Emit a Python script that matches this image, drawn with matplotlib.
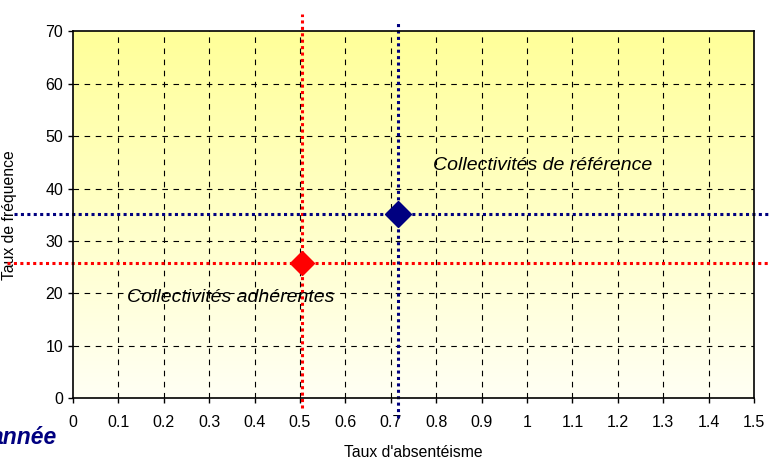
# LIBRARIES IMPORT

import numpy as np
import matplotlib.pyplot as plt
from matplotlib.colors import LinearSegmentedColormap

plt.rcParams['font.family'] = ['Liberation Sans', 'DejaVu Sans']

# DATA

groups = ['Collectivités adhérentes', 'Collectivités de référence']
absenteeism = [0.505, 0.715]
frequency = [25.8, 35.1]
colors = ['#ff0000', '#000080']
x_ticks = [0, 0.1, 0.2, 0.3, 0.4, 0.5, 0.6, 0.7, 0.8, 0.9, 1, 1.1, 1.2, 1.3, 1.4, 1.5]
x_tick_labels = ['0', '0.1', '0.2', '0.3', '0.4', '0.5', '0.6', '0.7', '0.8', '0.9',
                 '1', '1.1', '1.2', '1.3', '1.4', '1.5']
y_ticks = [0, 10, 20, 30, 40, 50, 60, 70]

# FIGURE

fig = plt.figure(figsize=(7.7, 4.59), dpi=100)
ax = fig.add_axes([0.0948, 0.1329, 0.8844, 0.7985])
ax.set_xlim(0, 1.5)
ax.set_ylim(0, 70)

# Yellow gradient background
cmap = LinearSegmentedColormap.from_list('bg', ['#fffff4', '#ffff99'])
grad = np.linspace(0, 1, 256).reshape(-1, 1)
ax.imshow(grad, cmap=cmap, origin='lower', aspect='auto',
          extent=[0, 1.5, 0, 70], zorder=0)

# Dashed grid
for xv in x_ticks[1:-1]:
    ax.axvline(xv, color='black', lw=0.8, dashes=(5, 5), zorder=1)
for yv in y_ticks[1:-1]:
    ax.axhline(yv, color='black', lw=0.8, dashes=(5, 5), zorder=1)

# Dotted reference lines (extend beyond the plot area)
v_ext = [(-1.9, 73.3), (-3.8, 71.6)]
h_ext = [(-0.145, 1.535), (-0.13, 1.535)]
for i in range(len(groups)):
    ax.plot([absenteeism[i], absenteeism[i]], v_ext[i], color=colors[i], lw=2.2,
            linestyle=(0, (1, 1.1)), clip_on=False, zorder=3)
    ax.plot(h_ext[i], [frequency[i], frequency[i]], color=colors[i], lw=2.2,
            linestyle=(0, (1, 1.1)), clip_on=False, zorder=3)

# Markers
ax.plot(absenteeism[0], frequency[0], marker='D', markersize=12.5, color=colors[0],
        linestyle='none', zorder=4)
ax.plot(absenteeism[1], frequency[1], marker='D', markersize=13, color=colors[1],
        linestyle='none', zorder=4)

# Annotations
ax.text(0.119, 19.1, groups[0], fontsize=14, style='italic', va='center', zorder=5)
ax.text(0.793, 44.5, groups[1], fontsize=14, style='italic', va='center', zorder=5)

# Axes styling
ax.set_xticks(x_ticks)
ax.set_xticklabels(x_tick_labels)
ax.set_yticks(y_ticks)
ax.tick_params(axis='both', direction='out', length=3.6, width=1, labelsize=11.5,
               colors='black')
ax.tick_params(axis='x', pad=9)
ax.tick_params(axis='y', pad=3.5)
for s in ax.spines.values():
    s.set_linewidth(1.2)
    s.set_zorder(6)

ax.set_xlabel("Taux d'absentéisme", fontsize=11.3)
ax.set_ylabel('Taux de fréquence', fontsize=11.3)
ax.xaxis.set_label_coords(0.5, -0.128)
ax.yaxis.set_label_coords(-0.082, 0.5)

# Cut-off title fragment at bottom left (also cut off in the original)
fig.text(57 / 770, (459 - 444) / 459, 'année', fontsize=16.5, fontweight='bold',
         style='italic', color='#000080', ha='right', va='baseline')

fig.savefig('out.png', dpi=100)
